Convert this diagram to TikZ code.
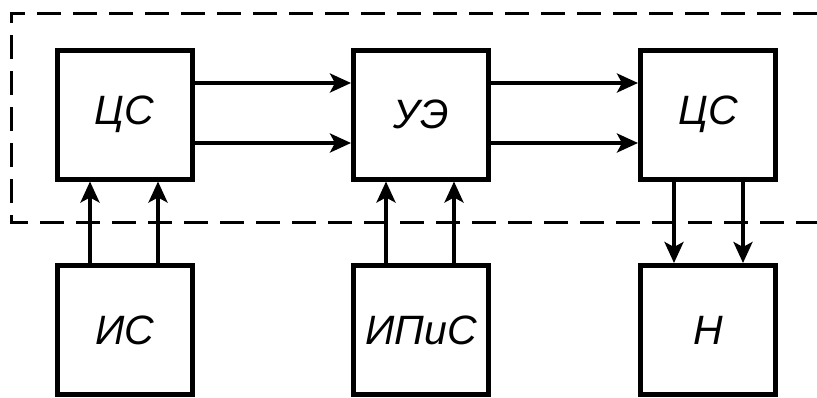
\documentclass[tikz,border=0pt]{standalone}
\usepackage{fontspec}
\setmainfont{Liberation Sans}
\usetikzlibrary{arrows.meta}
\begin{document}
\begin{tikzpicture}[x=1pt,y=-1pt,
  blk/.style={draw,line width=5pt,minimum width=135pt,minimum height=129pt,inner sep=0pt,font=\fontsize{41}{48}\selectfont\itshape},
  arr/.style={line width=3.5pt,-{Stealth[length=21pt,width=19pt,inset=5pt]}},
  frame/.style={line width=3pt,dash pattern=on 24pt off 12pt}]
\useasboundingbox (0,0) rectangle (817,397);
\draw[frame] (817,13) -- (11,13) -- (11,222) -- (817,222);
\node[blk] (cs1) at (124.5,114.5) {ЦС};
\node[blk] (ue)  at (421,114.5) {УЭ};
\node[blk] (cs2) at (708,114.5) {ЦС};
\node[blk] (is)  at (124.5,330) {ИС};
\node[blk] (ipis) at (421,330) {ИПиС};
\node[blk] (n)   at (708,330) {Н};
\coordinate (r1) at (0,83);
\coordinate (r2) at (0,143);
\coordinate (c1) at (90,0);
\coordinate (c2) at (158,0);
\coordinate (c3) at (386,0);
\coordinate (c4) at (454,0);
\coordinate (c5) at (674,0);
\coordinate (c6) at (743,0);
\draw[arr] (cs1.east |- r1) -- (ue.west |- r1);
\draw[arr] (cs1.east |- r2) -- (ue.west |- r2);
\draw[arr] (ue.east |- r1) -- (cs2.west |- r1);
\draw[arr] (ue.east |- r2) -- (cs2.west |- r2);
\draw[arr] (is.north -| c1) -- (cs1.south -| c1);
\draw[arr] (is.north -| c2) -- (cs1.south -| c2);
\draw[arr] (ipis.north -| c3) -- (ue.south -| c3);
\draw[arr] (ipis.north -| c4) -- (ue.south -| c4);
\draw[arr] (cs2.south -| c5) -- (n.north -| c5);
\draw[arr] (cs2.south -| c6) -- (n.north -| c6);
\end{tikzpicture}
\end{document}
